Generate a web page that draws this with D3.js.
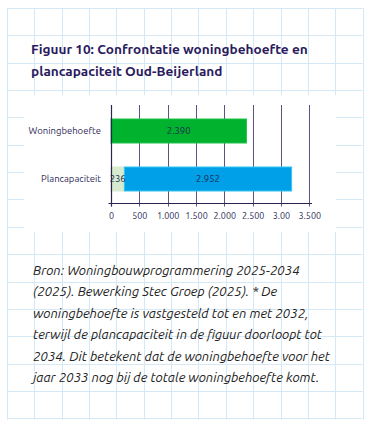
<!DOCTYPE html>
<html><head><meta charset="utf-8">
<script src="https://cdn.jsdelivr.net/npm/d3@7/dist/d3.min.js"></script>
<style>html,body{margin:0;padding:0;background:#fff;}svg{display:block;}</style>
</head><body>
<script>
const titleLines = ["Figuur 10: Confrontatie woningbehoefte en", "plancapaciteit Oud-Beijerland"];
const categories = ["Woningbehoefte", "Plancapaciteit"];
const seriesNames = ["behoefte", "plan2033", "plan"];
const behoefte = [2390, 0];
const plan2033 = [0, 236];
const plan = [0, 2952];
const tickValues = [0, 500, 1000, 1500, 2000, 2500, 3000, 3500];
const tickLabels = ["0", "500", "1.000", "1.500", "2.000", "2.500", "3.00", "3.500"];
const valueLabels = { behoefte: ["2.390", ""], plan2033: ["", "236"], plan: ["", "2.952"] };
const captionLines = [
  "Bron: Woningbouwprogrammering 2025-2034",
  "(2025). Bewerking Stec Groep (2025). * De",
  "woningbehoefte is vastgesteld tot en met 2032,",
  "terwijl de plancapaciteit in de figuur doorloopt tot",
  "2034. Dit betekent dat de woningbehoefte voor het",
  "jaar 2033 nog bij de totale woningbehoefte komt."
];

const colors = { behoefte: "#00b22e", plan2033: "#d6ebd0", plan: "#00a0e8" };
const strokes = { behoefte: "#1fc04a", plan2033: "#d6ebd0", plan: "#33c4f0" };

const W = 373, H = 432;
const svg = d3.select("body").append("svg").attr("width", W).attr("height", H);
svg.append("rect").attr("width", W).attr("height", H).attr("fill", "#fff");

// squared paper card
const gx0 = 7, gx1 = 362.5, gy0 = 8, gy1 = 419.5, cell = 27.35;
const grid = svg.append("g").attr("stroke", "#d4e8f6").attr("stroke-width", 1).attr("fill", "none");
for (let i = 0; i <= 13; i++) {
  const x = Math.round(gx0 + i * cell) + 0.5;
  grid.append("line").attr("x1", x).attr("x2", x).attr("y1", gy0).attr("y2", gy1);
}
for (let j = 0; j <= 15; j++) {
  const y = Math.round(gy0 + j * cell) + 0.5;
  grid.append("line").attr("x1", gx0).attr("x2", gx1).attr("y1", y).attr("y2", y);
}

// white chart panel
svg.append("rect").attr("x", 24).attr("y", 95).attr("width", 312).attr("height", 137).attr("fill", "#fff");

// title
const title = svg.append("g").attr("font-family", "Ubuntu, 'Noto Sans', 'Open Sans', sans-serif")
  .attr("font-weight", "bold").attr("fill", "#2b1b5e");
titleLines.forEach((t, i) => {
  const tx = title.append("text").attr("x", 31).attr("y", 54 + i * 21.5).attr("font-size", 13.5).text(t);
  if (i === 0) {
    const w = tx.node().getComputedTextLength();
    const fs = 13.5 * 277 / w;
    title.selectAll("text").attr("font-size", fs);
  }
});
title.selectAll("text").attr("font-size", title.select("text").attr("font-size"));

// chart
const x = d3.scaleLinear().domain([0, 3500]).range([111, 309.3]);
const y = d3.scaleBand().domain(categories).range([107, 203]).paddingInner(0.5).paddingOuter(0.25);

const gridColor = "#5b5383";
const cg = svg.append("g");
cg.selectAll("line.g").data(tickValues).join("line")
  .attr("x1", d => Math.round(x(d)) + 0.5).attr("x2", d => Math.round(x(d)) + 0.5)
  .attr("y1", 105).attr("y2", 206.5).attr("stroke", gridColor).attr("stroke-width", 1);

const table = categories.map((c, i) => ({ cat: c, behoefte: behoefte[i], plan2033: plan2033[i], plan: plan[i] }));
const stacked = d3.stack().keys(seriesNames)(table);

stacked.forEach(layer => {
  const key = layer.key;
  cg.append("g").selectAll("rect").data(layer).join("rect")
    .filter(d => d[1] - d[0] > 0)
    .attr("x", d => x(d[0]))
    .attr("y", d => y(d.data.cat))
    .attr("width", d => x(d[1]) - x(d[0]))
    .attr("height", y.bandwidth())
    .attr("fill", colors[key])
    .attr("stroke", strokes[key]).attr("stroke-width", 1);
});
stacked.forEach(layer => {
  const key = layer.key;
  cg.append("g").selectAll("text").data(layer).join("text")
    .filter((d, i) => valueLabels[key][i] !== "")
    .attr("x", d => (x(d[0]) + x(d[1])) / 2)
    .attr("y", d => y(d.data.cat) + y.bandwidth() / 2)
    .attr("dy", "0.35em").attr("text-anchor", "middle")
    .attr("font-family", "Ubuntu, 'Noto Sans', sans-serif").attr("font-size", 9.5)
    .attr("fill", "#1f2a50")
    .text((d, i) => valueLabels[key][categories.indexOf(d.data.cat)]);
});

// axes lines
cg.append("line").attr("x1", 108.5).attr("x2", 312).attr("y1", 203.5).attr("y2", 203.5).attr("stroke", "#2b2550").attr("stroke-width", 1.2);
cg.append("line").attr("x1", 111.5).attr("x2", 111.5).attr("y1", 105).attr("y2", 206.5).attr("stroke", "#2b2550").attr("stroke-width", 1.2);

// x axis tick labels
const xAxis = d3.axisBottom(x).tickValues(tickValues).tickSize(0).tickPadding(9)
  .tickFormat((d, i) => tickLabels[i]);
const ax = svg.append("g").attr("transform", "translate(0,203.5)").call(xAxis);
ax.select(".domain").remove();
ax.selectAll("text").attr("font-family", "Ubuntu, 'Noto Sans', sans-serif").attr("font-size", 9).attr("fill", "#2d2a58");

// y axis labels
const yAxis = d3.axisLeft(y).tickSize(0).tickPadding(10);
const ay = svg.append("g").attr("transform", "translate(111,0)").call(yAxis);
ay.select(".domain").remove();
ay.selectAll("text").attr("font-family", "Ubuntu, 'Noto Sans', sans-serif").attr("font-size", 9.5).attr("fill", "#2f2b5a");

// caption
const cap = svg.append("g").attr("font-family", "Ubuntu, 'Open Sans', 'Noto Sans', sans-serif")
  .attr("font-style", "italic").attr("fill", "#222").attr("font-size", 13);
captionLines.forEach((t, i) => {
  cap.append("text").attr("x", 33).attr("y", 275 + i * 21.4).text(t);
});
const w0 = cap.select("text").node().getComputedTextLength();
cap.attr("font-size", 13 * 267 / w0);
</script>
</body></html>
